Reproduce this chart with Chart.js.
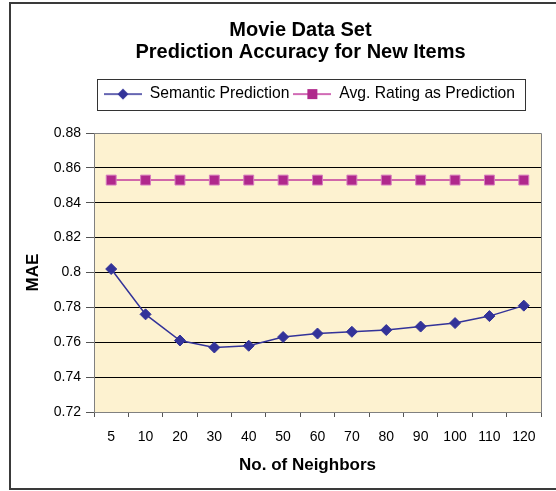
<!DOCTYPE html>
<html lang="en">
  <head>
    <meta charset="UTF-8" />
    <title>Movie Data Set</title>
    <style>
      html, body { margin: 0; padding: 0; background: #fff; }
    </style>
  </head>
  <body>
    <canvas id="chart1" width="556" height="491"></canvas>

    <script src="https://cdn.jsdelivr.net/npm/chart.js"></script>
<script>
      // データ
      const neighbors = ['5', '10', '20', '30', '40', '50', '60', '70', '80', '90', '100', '110', '120'];
      const semantic = [0.802, 0.776, 0.761, 0.757, 0.758, 0.763, 0.765, 0.766, 0.767, 0.769, 0.771, 0.775, 0.781];
      const avgRating = [0.853, 0.853, 0.853, 0.853, 0.853, 0.853, 0.853, 0.853, 0.853, 0.853, 0.853, 0.853, 0.853];
      const seriesNames = ['Semantic Prediction', 'Avg. Rating as Prediction'];
      const yMin = 0.72;
      const yMax = 0.88;
      const yStep = 0.02;

      const FONT = "'Liberation Sans', Arial, sans-serif";
      const navy = '#333399';
      const pink = '#b0288c';

      // 凡例用のアイコン（線＋マーカー）
      function makeIcon(lineColor, markerColor, shape) {
        const c = document.createElement('canvas');
        c.width = 38;
        c.height = 14;
        const g = c.getContext('2d');
        g.strokeStyle = lineColor;
        g.lineWidth = 1.5;
        g.beginPath();
        g.moveTo(0, 7);
        g.lineTo(38, 7);
        g.stroke();
        g.fillStyle = markerColor;
        if (shape === 'diamond') {
          g.beginPath();
          g.moveTo(19, 1.5);
          g.lineTo(24.5, 7);
          g.lineTo(19, 12.5);
          g.lineTo(13.5, 7);
          g.closePath();
          g.fill();
        } else {
          g.fillRect(14, 2, 10, 10);
        }
        return c;
      }
      const icons = [makeIcon(navy, navy, 'diamond'), makeIcon('#c23a9c', pink, 'square')];

      // 背景・枠線・凡例の枠
      const chartStyle = {
        id: 'chartStyle',
        beforeLayout(chart) {
          const legend = chart.legend;
          if (legend && !legend._wrapped) {
            const fit = legend.fit;
            legend.fit = function () {
              fit.call(this);
              this.height = 50.75; // 凡例の下に余白
            };
            legend._wrapped = true;
          }
        },
        afterLayout(chart) {
          chart.titleBlock.left += 30;
          chart.titleBlock.right += 30;
          chart.legend.left = 100;
          // x軸タイトルを少し左へ
          const xs = chart.scales.x;
          if (!xs._wrapped) {
            const drawTitle = xs.drawTitle;
            xs.drawTitle = function () {
              this.ctx.save();
              this.ctx.translate(-10, 0);
              drawTitle.call(this);
              this.ctx.restore();
            };
            xs._wrapped = true;
          }
        },
        beforeDraw(chart) {
          const { ctx, chartArea: a } = chart;
          ctx.save();
          ctx.fillStyle = '#fdf2d0';
          ctx.fillRect(a.left, a.top, a.right - a.left, a.bottom - a.top);
          ctx.strokeStyle = '#3a3a3a';
          ctx.lineWidth = 2;
          ctx.beginPath();
          ctx.moveTo(556, 3);
          ctx.lineTo(10, 3);
          ctx.lineTo(10, 489);
          ctx.lineTo(556, 489);
          ctx.stroke();
          ctx.restore();
        },
        beforeDatasetsDraw(chart) {
          const { ctx, chartArea: a } = chart;
          ctx.save();
          ctx.strokeStyle = '#808080';
          ctx.lineWidth = 1;
          ctx.beginPath();
          ctx.moveTo(a.left, a.top + 0.5);
          ctx.lineTo(a.right + 0.5, a.top + 0.5);
          ctx.lineTo(a.right + 0.5, a.bottom);
          ctx.stroke();
          ctx.restore();
        },
        afterDraw(chart) {
          const boxes = chart.legend.legendHitBoxes;
          if (!boxes.length) return;
          const first = boxes[0];
          const last = boxes[boxes.length - 1];
          const ctx = chart.ctx;
          ctx.save();
          ctx.strokeStyle = '#333';
          ctx.lineWidth = 1;
          const x0 = Math.round(first.left - 7) + 0.5;
          const y0 = Math.round(first.top - 7) + 0.5;
          const x1 = Math.round(last.left + last.width + 10) + 0.5;
          ctx.strokeRect(x0, y0, x1 - x0, 31);
          ctx.restore();
        }
      };

      const ctx = document.getElementById('chart1').getContext('2d');
      const chart1 = new Chart(ctx, {
        type: 'line',
        data: {
          labels: neighbors,
          datasets: [
            {
              label: seriesNames[0],
              data: semantic,
              borderColor: navy,
              backgroundColor: navy,
              borderWidth: 1.5,
              tension: 0,
              pointStyle: 'rectRot',
              pointRadius: 5.5,
              pointBackgroundColor: navy,
              pointBorderColor: navy,
              pointBorderWidth: 1
            },
            {
              label: seriesNames[1],
              data: avgRating,
              borderColor: '#c23a9c',
              backgroundColor: pink,
              borderWidth: 1.5,
              tension: 0,
              pointStyle: 'rect',
              pointRadius: 7,
              pointBackgroundColor: pink,
              pointBorderColor: '#d77cbf',
              pointBorderWidth: 1
            }
          ]
        },
        options: {
          responsive: false,
          animation: false,
          devicePixelRatio: 1,
          layout: { padding: { left: 0, right: 15, top: 0, bottom: 0 } },
          plugins: {
            title: {
              display: true,
              text: ['Movie Data Set', 'Prediction Accuracy for New Items'],
              color: '#000',
              font: { family: FONT, size: 20, weight: 'bold', lineHeight: 1.1 },
              padding: { top: 19, bottom: 19.25 }
            },
            legend: {
              position: 'top',
              align: 'start',
              labels: {
                usePointStyle: true,
                pointStyleWidth: 38,
                padding: 4,
                color: '#000',
                font: { family: FONT, size: 15.7 },
                generateLabels(chart) {
                  const items = Chart.defaults.plugins.legend.labels.generateLabels(chart);
                  items.forEach((item, i) => {
                    item.pointStyle = icons[i];
                  });
                  return items;
                }
              }
            },
            tooltip: { enabled: false }
          },
          scales: {
            x: {
              offset: true,
              grid: { offset: true, drawOnChartArea: false, drawTicks: true, tickLength: 5, color: '#555' },
              border: { color: '#808080', width: 1 },
              ticks: { color: '#000', font: { family: FONT, size: 14 }, padding: 12, maxRotation: 0, autoSkip: false },
              title: {
                display: true,
                text: 'No. of Neighbors',
                color: '#000',
                font: { family: FONT, size: 17, weight: 'bold' },
                padding: { top: 0, bottom: 15 }
              },
              afterFit(scale) {
                scale.height = 79;
              }
            },
            y: {
              min: yMin,
              max: yMax,
              ticks: {
                stepSize: yStep,
                color: '#000',
                font: { family: FONT, size: 14 },
                padding: 5,
                callback: (v) => String(+v.toFixed(2))
              },
              grid: {
                color: (c) => (c.tick && Math.abs(c.tick.value - yMax) < 1e-6 ? '#808080' : '#000'),
                tickColor: '#555',
                tickLength: 8,
                lineWidth: 1
              },
              border: { color: '#808080', width: 1 },
              title: {
                display: true,
                text: 'MAE',
                color: '#000',
                font: { family: FONT, size: 17, weight: 'bold' },
                padding: { top: 23, bottom: 0 }
              },
              afterFit(scale) {
                scale.width = 94;
              }
            }
          }
        },
        plugins: [chartStyle]
      });
      </script>
  </body>
</html>
